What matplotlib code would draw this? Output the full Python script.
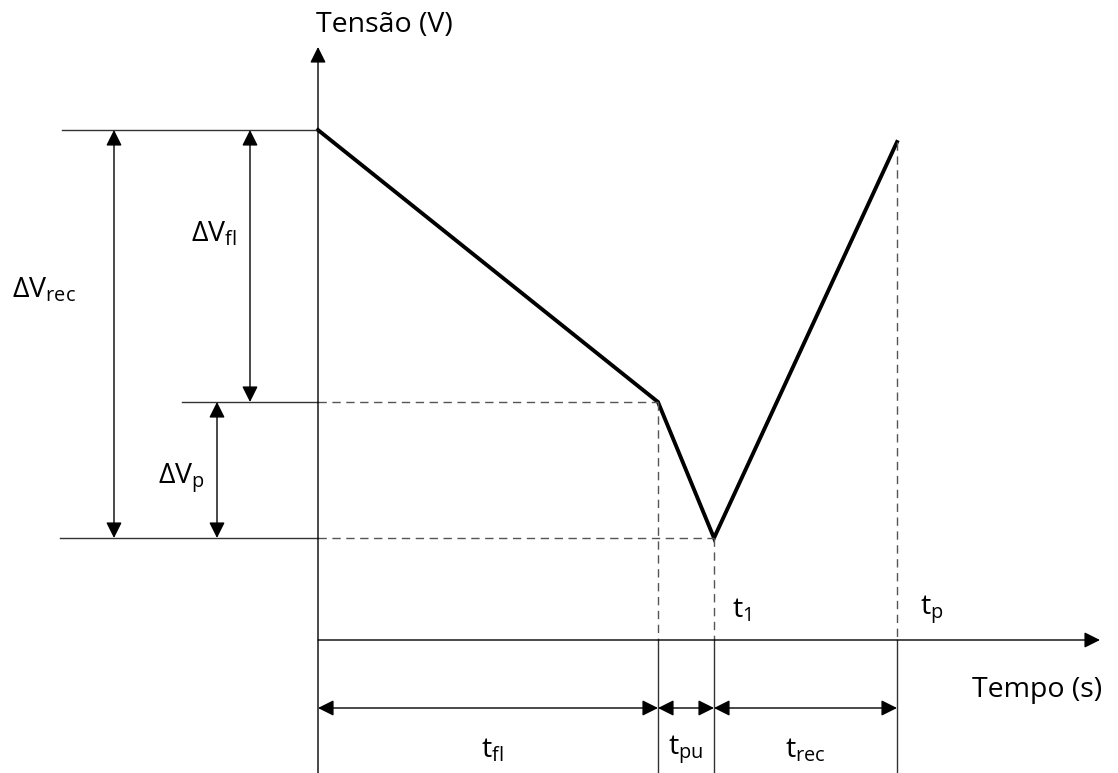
import matplotlib.pyplot as plt

# schematic values (time / voltage in arbitrary units, origin at the axes crossing)
t_pts = [0, 340, 396, 579]          # start, end of float, t1, tp
v_pts = [510, 238, 102, 498]        # voltage at those instants
v_levels = [510, 238, 102]          # reference levels on the left
v_level_start = [-256, -136, -258]  # where the left reference lines begin
dv_arrow_t = [-204, -68, -101]      # positions of the ΔV arrows
dv_arrow_span = [(510, 102), (510, 238), (238, 102)]
dv_labels = [r'ΔV$_{\mathrm{rec}}$', r'ΔV$_{\mathrm{fl}}$', r'ΔV$_{\mathrm{p}}$']
dv_label_pos = [(-274, 350), (-104, 406), (-137, 162)]
t_labels = [r't$_{\mathrm{fl}}$', r't$_{\mathrm{pu}}$', r't$_{\mathrm{rec}}$']
t_label_x = [174, 368, 487]
dim_row = -68
label_row = -110

FONT = 'Open Sans'
plt.rcParams['font.family'] = [FONT, 'DejaVu Sans']
plt.rcParams['mathtext.fontset'] = 'custom'
plt.rcParams['mathtext.rm'] = FONT
plt.rcParams['mathtext.it'] = FONT

fig = plt.figure(figsize=(11.18, 7.73), dpi=100)
ax = fig.add_axes([0, 0, 1, 1])
ax.set_xlim(-318, 800)
ax.set_ylim(-133, 640)
ax.axis('off')

thin = dict(color='#333333', lw=1.0)
dash = dict(color='#555555', lw=1.0, ls=(0, (6, 4)))
fs = 20.5
head = dict(color='black', lw=1.0, mutation_scale=24, shrinkA=0, shrinkB=0)

# axes with arrow heads
ax.annotate('', xy=(0, 593), xytext=(0, -133), arrowprops=dict(arrowstyle='-|>', **head))
ax.annotate('', xy=(782, 0), xytext=(0, 0), arrowprops=dict(arrowstyle='-|>', **head))
ax.text(-2, 615, 'Tensão (V)', fontsize=fs, ha='left', va='center')
ax.text(654, -50, 'Tempo (s)', fontsize=fs, ha='left', va='center')

# voltage curve
ax.plot(t_pts, v_pts, color='black', lw=2.8, solid_joinstyle='miter')

# left reference levels and dashed projections
for v, x0 in zip(v_levels, v_level_start):
    ax.plot([x0, 0], [v, v], **thin)
ax.plot([0, t_pts[1]], [v_pts[1], v_pts[1]], **dash)
ax.plot([0, t_pts[2]], [v_pts[2], v_pts[2]], **dash)
for t, v in zip(t_pts[1:], v_pts[1:]):
    ax.plot([t, t], [v, 0], **dash)
    ax.plot([t, t], [0, -133], **thin)

# ΔV dimension arrows
for t, (va, vb), lab, pos in zip(dv_arrow_t, dv_arrow_span, dv_labels, dv_label_pos):
    ax.annotate('', xy=(t, va), xytext=(t, vb), arrowprops=dict(arrowstyle='<|-|>', **head))
    ax.text(pos[0], pos[1], lab, fontsize=fs, ha='center', va='center')

# time dimension arrows
for i, lab in enumerate(t_labels):
    ax.annotate('', xy=(t_pts[i], dim_row), xytext=(t_pts[i + 1], dim_row),
                arrowprops=dict(arrowstyle='<|-|>', **head))
    ax.text(t_label_x[i], label_row, lab, fontsize=fs, ha='center', va='center')

ax.text(414, 30, r't$_{\mathrm{1}}$', fontsize=fs, ha='left', va='center')
ax.text(602, 30, r't$_{\mathrm{p}}$', fontsize=fs, ha='left', va='center')

fig.savefig('out.png', dpi=100)
